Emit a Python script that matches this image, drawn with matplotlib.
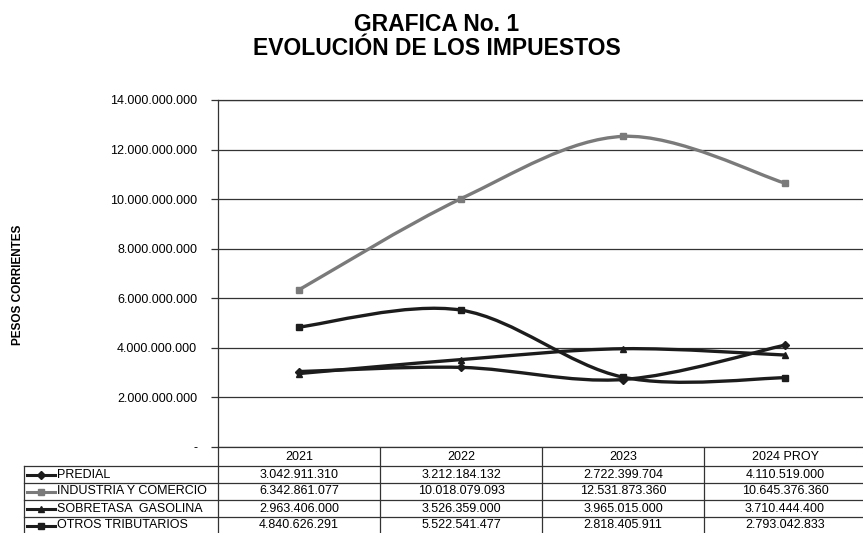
import matplotlib
matplotlib.use("Agg")
import matplotlib.pyplot as plt
from matplotlib.path import Path
from matplotlib.patches import PathPatch
import numpy as np

plt.rcParams["font.family"] = ["Liberation Sans", "DejaVu Sans"]

years = ["2021", "2022", "2023", "2024 PROY"]
series_names = ["PREDIAL", "INDUSTRIA Y COMERCIO", "SOBRETASA  GASOLINA", "OTROS TRIBUTARIOS"]
predial = [3042911310, 3212184132, 2722399704, 4110519000]
industria = [6342861077, 10018079093, 12531873360, 10645376360]
sobretasa = [2963406000, 3526359000, 3965015000, 3710444400]
otros = [4840626291, 5522541477, 2818405911, 2793042833]
y_ticks = [0, 2e9, 4e9, 6e9, 8e9, 10e9, 12e9, 14e9]

all_values = [predial, industria, sobretasa, otros]
colors = ["#1c1c1c", "#7a7a7a", "#1c1c1c", "#1c1c1c"]
markers = ["D", "s", "^", "s"]


def fmt(v):
    return "-" if v == 0 else f"{v:,.0f}".replace(",", ".")


def smooth_path(xs, ys):
    # Excel-style smoothed line: cubic bezier through the points
    pts = np.column_stack([xs, ys]).astype(float)
    ext = np.vstack([pts[0], pts, pts[-1]])
    verts = [pts[0]]
    codes = [Path.MOVETO]
    for i in range(len(pts) - 1):
        p0, p1, p2, p3 = ext[i], ext[i + 1], ext[i + 2], ext[i + 3]
        verts += [p1 + (p2 - p0) / 6, p2 - (p3 - p1) / 6, p2]
        codes += [Path.CURVE4] * 3
    return Path(verts, codes)


W, H = 863, 533
fig = plt.figure(figsize=(W / 100, H / 100), dpi=100)

left, right, top, bottom = 218, 866, 100, 447
ax = fig.add_axes([left / W, 1 - bottom / H, (right - left) / W, (bottom - top) / H])
x = np.arange(len(years))
for vals, c, m in zip(all_values, colors, markers):
    ax.add_patch(PathPatch(smooth_path(x, vals), facecolor="none", edgecolor=c,
                           lw=2.4, capstyle="round", zorder=3))
    ax.plot(x, vals, linestyle="none", marker=m, color=c, markersize=4, zorder=4)

ax.set_xlim(-0.5, len(years) - 0.5)
ax.set_ylim(0, 14e9)
ax.set_yticks(y_ticks)
ax.set_yticklabels([fmt(v) for v in y_ticks], fontsize=9)
ax.set_xticks([])
ax.yaxis.grid(True, color="#333333", lw=0.9)
ax.set_axisbelow(True)
ax.tick_params(axis="y", length=5, width=0.9, pad=10, color="#333333")
ax.spines["right"].set_visible(False)
for side in ["left", "top", "bottom"]:
    ax.spines[side].set_color("#333333")
    ax.spines[side].set_linewidth(0.9)

fig.text(437 / W, 1 - 24.5 / H, "GRAFICA No. 1", ha="center", va="center",
         fontsize=16.5, fontweight="bold")
fig.text(437 / W, 1 - 48.5 / H, "EVOLUCIÓN DE LOS IMPUESTOS", ha="center", va="center",
         fontsize=16.5, fontweight="bold")
fig.text(18 / W, 1 - 285 / H, "PESOS CORRIENTES", rotation=90, ha="center", va="center",
         fontsize=8.5, fontweight="bold")

# data table under the chart, drawn in pixel coordinates
tab = fig.add_axes([0, 0, 1, 1], zorder=-1)
tab.set_xlim(0, W)
tab.set_ylim(H, 0)
tab.axis("off")
col_w = (right - left) / len(years)
header_bottom, row_h = 466, 17
line_kw = dict(color="#333333", lw=0.9)
for k in range(len(years) + 1):
    xk = left + k * col_w
    tab.plot([xk, xk], [bottom, H], **line_kw)
for r in range(len(series_names)):
    yr = header_bottom + r * row_h
    tab.plot([24, W], [yr, yr], **line_kw)
tab.plot([24, 24], [header_bottom, H], **line_kw)
for k, yl in enumerate(years):
    tab.text(left + (k + 0.5) * col_w, 457, yl, ha="center", va="center", fontsize=9)
for r, (name, vals, c, m) in enumerate(zip(series_names, all_values, colors, markers)):
    yc = header_bottom + (r + 0.5) * row_h
    tab.plot([27, 55], [yc, yc], color=c, lw=2.2)
    tab.plot([41], [yc], marker=m, color=c, markersize=4)
    tab.text(57, yc, name, ha="left", va="center", fontsize=9)
    for k, v in enumerate(vals):
        tab.text(left + (k + 0.5) * col_w, yc, fmt(v), ha="center", va="center", fontsize=9)

fig.savefig("out.png", dpi=100)
